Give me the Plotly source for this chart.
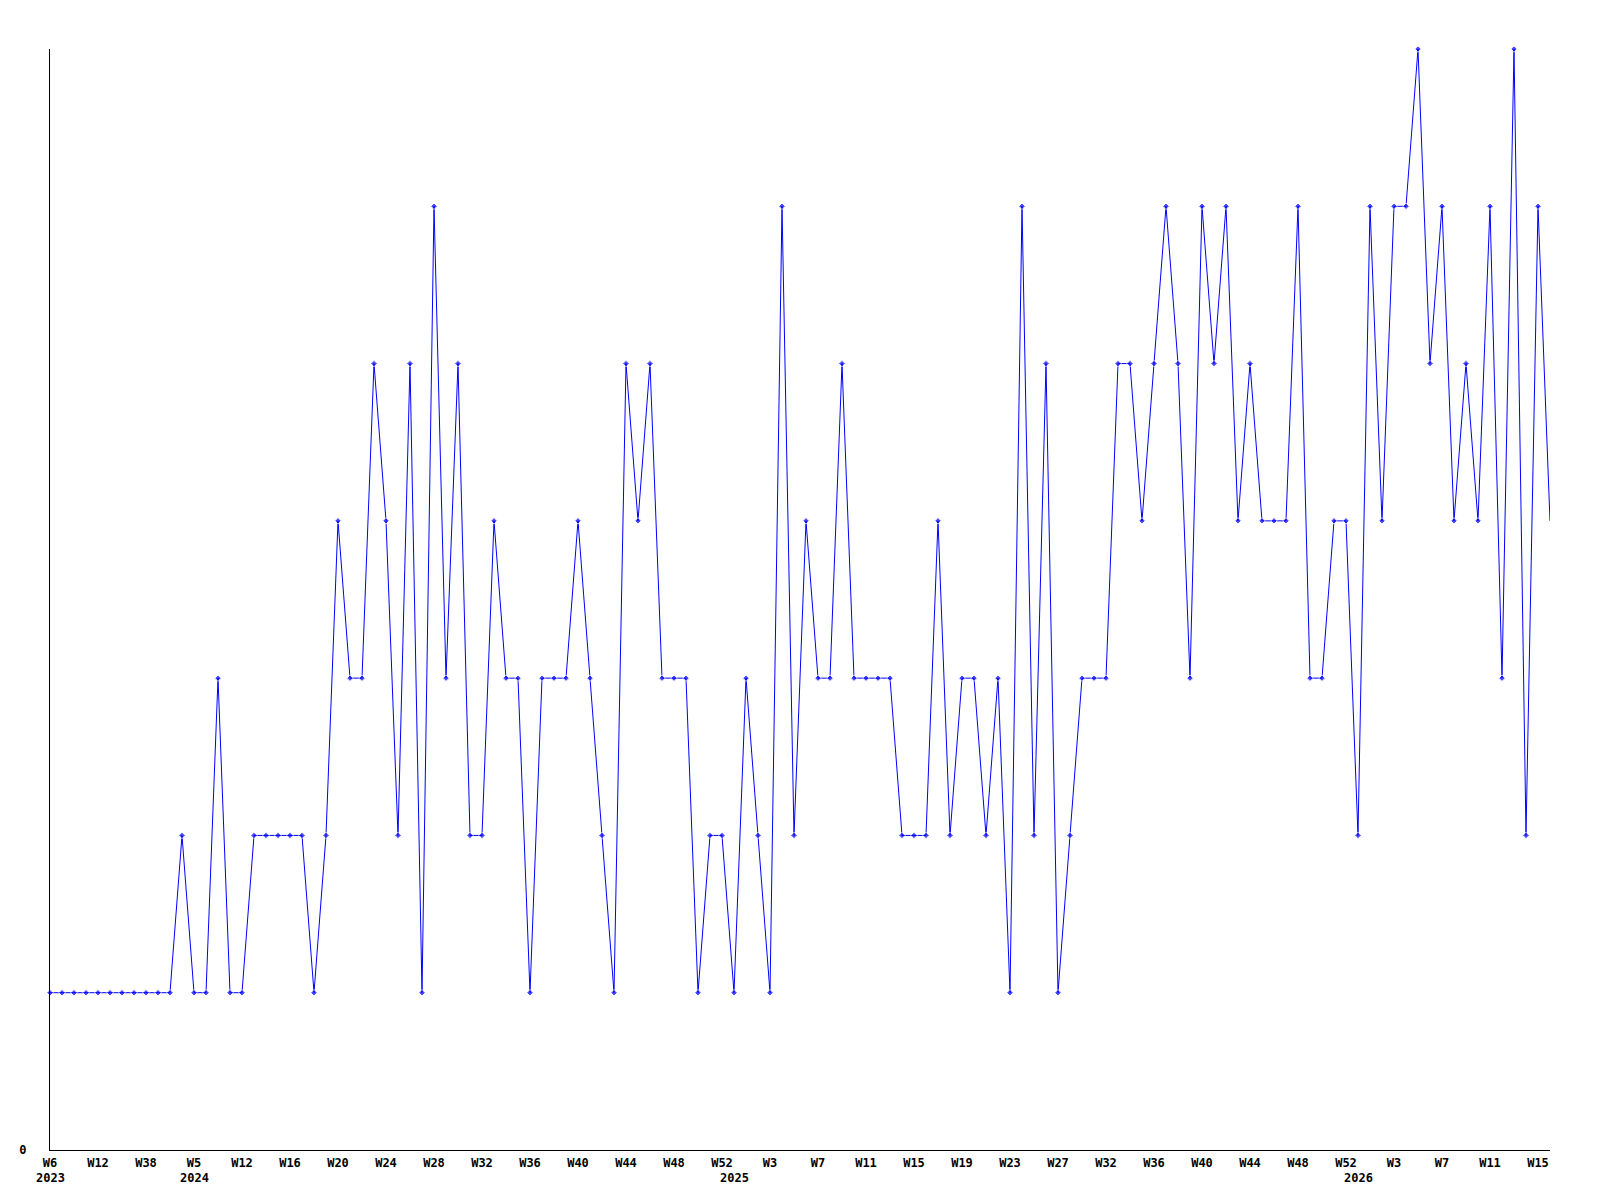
import plotly.graph_objects as go

# Weekly values (index 0 = 2023 W6)
values = [1, 1, 1, 1, 1, 1, 1, 1, 1, 1, 1, 2, 1, 1, 3, 1, 1, 2, 2, 2,
          2, 2, 1, 2, 4, 3, 3, 5, 4, 2, 5, 1, 6, 3, 5, 2, 2, 4, 3, 3,
          1, 3, 3, 3, 4, 3, 2, 1, 5, 4, 5, 3, 3, 3, 1, 2, 2, 1, 3, 2,
          1, 6, 2, 4, 3, 3, 5, 3, 3, 3, 3, 2, 2, 2, 4, 2, 3, 3, 2, 3,
          1, 6, 2, 5, 1, 2, 3, 3, 3, 5, 5, 4, 5, 6, 5, 3, 6, 5, 6, 4,
          5, 4, 4, 4, 6, 3, 3, 4, 4, 2, 6, 4, 6, 6, 7, 5, 6, 4, 5, 4,
          6, 3, 7, 2, 6, 4]

week_tick_labels = ["W6", "W12", "W38", "W5", "W12", "W16", "W20", "W24", "W28",
                    "W32", "W36", "W40", "W44", "W48", "W52", "W3", "W7", "W11",
                    "W15", "W19", "W23", "W27", "W32", "W36", "W40", "W44", "W48",
                    "W52", "W3", "W7", "W11", "W15"]
week_tick_index = list(range(0, 4 * len(week_tick_labels), 4))

year_labels = ["2023", "2024", "2025", "2026"]
year_index = [0, 12, 57, 109]

n = len(values)
x = list(range(n))
marker_sizes = [5] * (n - 1) + [0]

font = dict(family="DejaVu Sans Mono", size=12, color="black", weight="bold")

fig = go.Figure()
fig.add_trace(go.Scatter(
    x=x, y=values, mode="lines+markers",
    line=dict(color="#0000ff", width=1),
    marker=dict(symbol="diamond", size=marker_sizes, color="#0000ff"),
    cliponaxis=False, showlegend=False,
))

for yl, yi in zip(year_labels, year_index):
    fig.add_annotation(x=yi, y=0, yref="paper", text=yl, showarrow=False,
                       yanchor="top", xanchor="center", yshift=-19, font=font)

fig.update_layout(
    width=1600, height=1200,
    margin=dict(l=42, r=58, t=41, b=58, pad=0),
    paper_bgcolor="white", plot_bgcolor="white",
    font=font,
    xaxis=dict(range=[0, n - 1], showline=True, linecolor="black", linewidth=1,
               showgrid=False, zeroline=False, tickvals=week_tick_index,
               ticktext=week_tick_labels, ticks="", ticklabelstandoff=2,
               tickfont=font),
    yaxis=dict(range=[0, 7], showline=True, linecolor="black", linewidth=1,
               showgrid=False, zeroline=False, tickvals=[0], ticktext=["0"],
               ticks="", ticklabelstandoff=20, tickfont=font),
)

fig.write_html("out.html")
